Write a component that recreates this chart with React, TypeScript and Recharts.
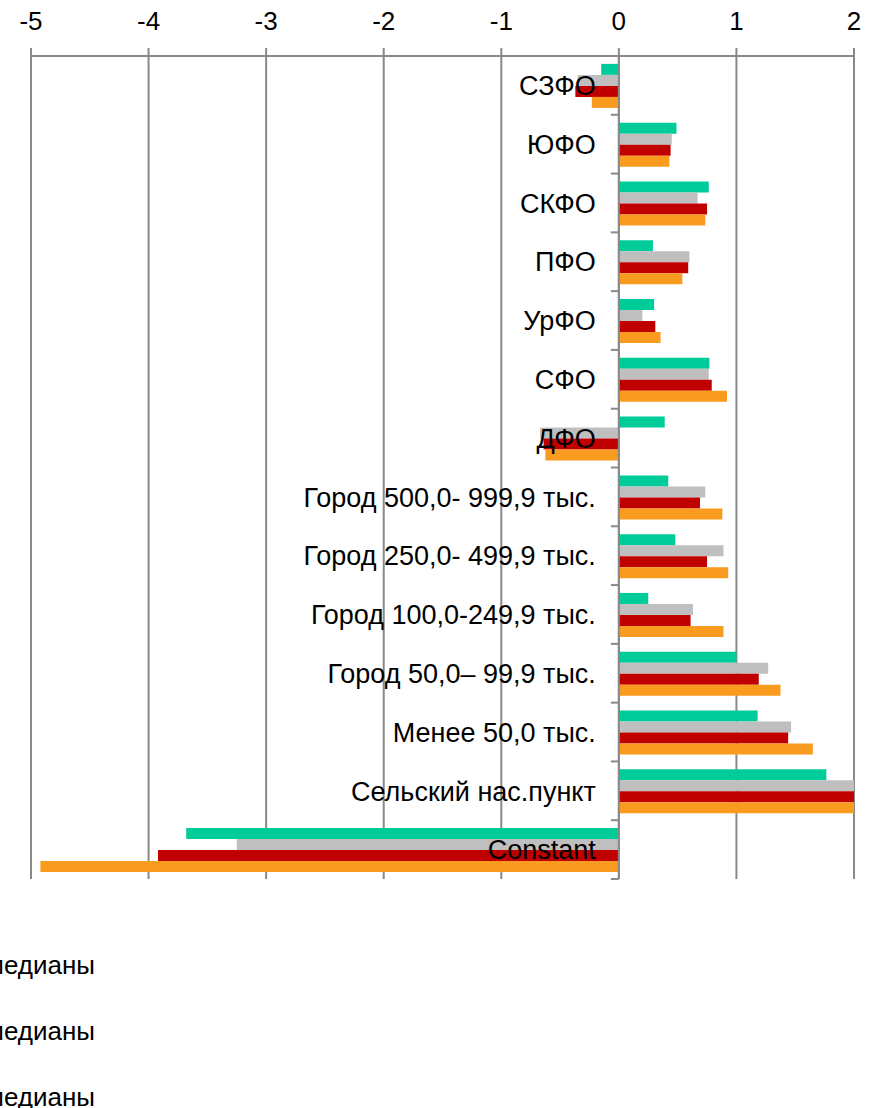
import React from 'react';
import { BarChart, Bar, XAxis, YAxis, CartesianGrid, ReferenceLine, Legend } from 'recharts';

const categories = [
  'СЗФО', 'ЮФО', 'СКФО', 'ПФО', 'УрФО', 'СФО', 'ДФО',
  'Город 500,0- 999,9 тыс.', 'Город 250,0- 499,9 тыс.', 'Город 100,0-249,9 тыс.',
  'Город 50,0– 99,9 тыс.', 'Менее 50,0 тыс.', 'Сельский нас.пункт', 'Constant',
];
const seriesNames = ['40% медианы', '50% медианы', '60% медианы', '70% медианы'];
const tealValues = [-0.15, 0.49, 0.765, 0.29, 0.3, 0.77, 0.39, 0.42, 0.48, 0.25, 1.0, 1.18, 1.765, -3.68];
const grayValues = [-0.35, 0.45, 0.67, 0.6, 0.2, 0.765, -0.67, 0.735, 0.89, 0.63, 1.27, 1.465, 2.03, -3.25];
const redValues = [-0.37, 0.44, 0.75, 0.59, 0.31, 0.79, -0.64, 0.69, 0.75, 0.61, 1.19, 1.44, 2.05, -3.92];
const orangeValues = [-0.23, 0.43, 0.735, 0.54, 0.355, 0.92, -0.625, 0.88, 0.93, 0.89, 1.375, 1.65, 2.05, -4.92];
const xTicks = [-5, -4, -3, -2, -1, 0, 1, 2];

const colors = ['#00CC99', '#BFBFBF', '#C00000', '#F99B1F'];
const keys = ['s1', 's2', 's3', 's4'];

const data = categories.map((name, i) => ({
  name,
  s1: tealValues[i],
  s2: grayValues[i],
  s3: redValues[i],
  s4: orangeValues[i],
}));

const W = 874;
const H = 1108;
const Y_AXIS_W = 1;
const M = { top: 20, right: 20, bottom: 229, left: 30 };
const XAXIS_H = 36;
const PLOT_TOP = M.top + XAXIS_H;
const PLOT_H = H - PLOT_TOP - M.bottom;
const PLOT_LEFT = M.left + Y_AXIS_W;
const PLOT_W = W - PLOT_LEFT - M.right;
const DOMAIN: [number, number] = [-5, 2];
const ZERO_X = PLOT_LEFT + ((0 - DOMAIN[0]) / (DOMAIN[1] - DOMAIN[0])) * PLOT_W;
const FONT = "'Liberation Sans', Arial, sans-serif";
const AXIS_COLOR = '#898989';

const renderYTick = (props: any) => {
  const { y, payload, index } = props;
  const band = PLOT_H / categories.length;
  return (
    <g key={`yt-${index}`}>
      <line x1={ZERO_X - 8} x2={ZERO_X} y1={y - band / 2} y2={y - band / 2} stroke={AXIS_COLOR} strokeWidth={2} />
      {index === categories.length - 1 && (
        <line x1={ZERO_X - 8} x2={ZERO_X} y1={y + band / 2} y2={y + band / 2} stroke={AXIS_COLOR} strokeWidth={2} />
      )}
      <text x={ZERO_X - 23} y={y} dy="0.36em" textAnchor="end" fontSize={27} fontFamily={FONT} fill="#000">
        {payload.value}
      </text>
    </g>
  );
};

const LegendContent = () => (
  <div style={{ fontFamily: FONT, fontSize: 26, color: '#000' }}>
    {seriesNames.map((n, i) => (
      <div key={n} style={{ height: 66, display: 'flex', alignItems: 'center', justifyContent: 'flex-end' }}>
        <span style={{ display: 'inline-block', width: 14, height: 14, background: colors[i], marginRight: 10 }} />
        <span>{n}</span>
      </div>
    ))}
  </div>
);

export default function App() {
  return (
    <div style={{ position: 'absolute', left: 0, top: 0, width: W, height: H, background: '#fff' }}>
      <BarChart
        width={W}
        height={H}
        data={data}
        layout="vertical"
        margin={M}
        barCategoryGap="13.4%"
        barGap={0}
      >
        <CartesianGrid horizontal={false} stroke={AXIS_COLOR} strokeWidth={2} />
        <XAxis
          type="number"
          orientation="top"
          domain={DOMAIN}
          ticks={xTicks}
          allowDataOverflow
          height={XAXIS_H}
          tickSize={8}
          tickMargin={18}
          axisLine={{ stroke: AXIS_COLOR, strokeWidth: 2 }}
          tickLine={{ stroke: AXIS_COLOR, strokeWidth: 2 }}
          tick={{ fill: '#000', fontSize: 26, fontFamily: FONT }}
          interval={0}
        />
        {keys.map((k, i) => (
          <Bar key={k} dataKey={k} name={seriesNames[i]} fill={colors[i]} isAnimationActive={false} />
        ))}
        <ReferenceLine x={0} stroke={AXIS_COLOR} strokeWidth={2} />
        <YAxis
          type="category"
          dataKey="name"
          width={Y_AXIS_W}
          axisLine={false}
          tickLine={false}
          tick={renderYTick}
          interval={0}
        />
        <Legend
          layout="vertical"
          align="center"
          verticalAlign="middle"
          content={<LegendContent />}
          wrapperStyle={{ left: -305, top: 932, width: 400, height: 264 }}
        />
      </BarChart>
    </div>
  );
}
